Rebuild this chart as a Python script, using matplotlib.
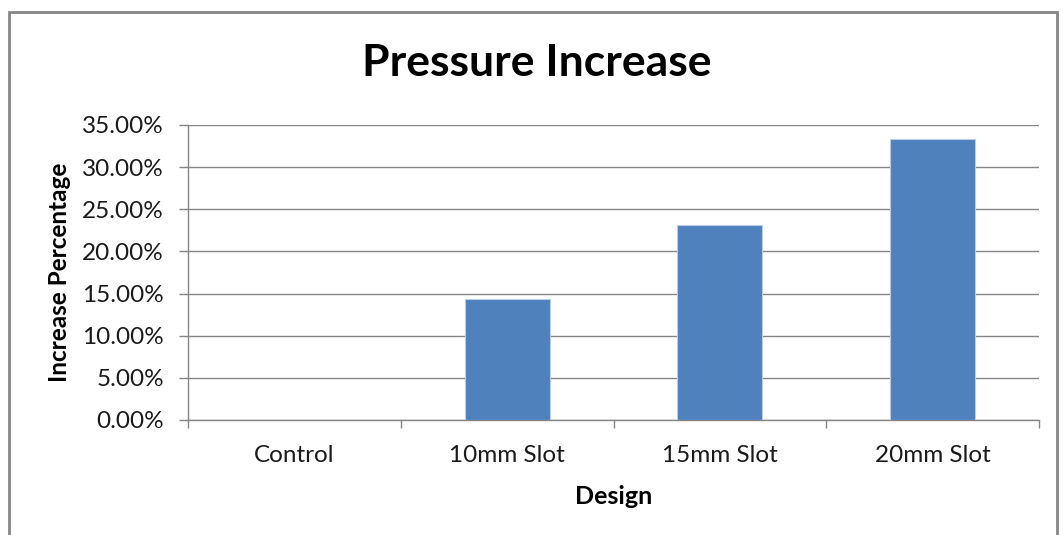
import matplotlib.pyplot as plt
import numpy as np
from matplotlib.patches import Rectangle
from matplotlib.ticker import PercentFormatter

plt.rcParams['font.family'] = ['Lato', 'DejaVu Sans']

designs = ["Control", "10mm Slot", "15mm Slot", "20mm Slot"]
increase = [0.0, 0.144, 0.231, 0.333]
y_ticks = [0.0, 0.05, 0.10, 0.15, 0.20, 0.25, 0.30, 0.35]

cinza = "#868686"

fig = plt.figure(figsize=(10.63, 5.35), dpi=100)
ax = fig.add_axes([0.1769, 0.2150, 0.8005, 0.5514])

x = np.arange(len(designs))
ax.bar(x, increase, width=0.4, color="#4F81BD", edgecolor="#B9CDE5", linewidth=0.8, zorder=3)

ax.set_xlim(-0.5, len(designs) - 0.5)
ax.set_ylim(0, 0.35)
ax.set_yticks(y_ticks)
ax.yaxis.set_major_formatter(PercentFormatter(1.0, decimals=2))
ax.grid(axis="y", color=cinza, linewidth=1.0, zorder=0)

ax.set_xticks(x)
ax.set_xticklabels(designs)
ax.set_xticks(np.arange(-0.5, len(designs)), minor=True)
ax.tick_params(axis="x", which="major", length=0, pad=18, labelsize=17.5, labelcolor="#1a1a1a")
ax.tick_params(axis="x", which="minor", length=6, color=cinza, width=1)
ax.tick_params(axis="y", length=6.5, color=cinza, width=1, pad=10.8, labelsize=17.5, labelcolor="#1a1a1a")

for lado in ["top", "right"]:
    ax.spines[lado].set_visible(False)
for lado in ["left", "bottom"]:
    ax.spines[lado].set_color(cinza)
    ax.spines[lado].set_linewidth(1.0)

ax.set_xlabel("Design", fontsize=18, fontweight="bold", labelpad=14)
ax.set_ylabel("Increase Percentage", fontsize=17.5, fontweight="bold", labelpad=8)
fig.text(0.5047, 0.882, "Pressure Increase", fontsize=32, fontweight="bold", ha="center", va="center")

# moldura do gráfico
fig.patches.append(Rectangle((9 / 1063, -0.05), 1048 / 1063, 1 - 12 / 535 + 0.05,
                             transform=fig.transFigure, fill=False, edgecolor=cinza, linewidth=2))

fig.savefig("out.png", dpi=100)
